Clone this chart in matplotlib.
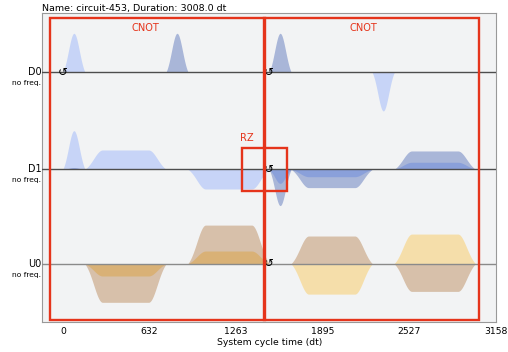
import numpy as np
import matplotlib.pyplot as plt
from matplotlib.patches import Rectangle
from matplotlib.transforms import blended_transform_factory

# Channels and their vertical offsets
channels = ['D0', 'D1', 'U0']
offsets = [0.0, -2.487, -4.908]
baseline_colors = ['#4d4d4d', '#4d4d4d', '#8a8a8a']

# Pulse table (normalised amplitudes, times in dt)
pulse_ch = ['D0', 'D0', 'D0', 'D0',
            'D1', 'D1', 'D1', 'D1', 'D1', 'D1',
            'U0', 'U0', 'U0', 'U0']
pulse_start = [0, 752, 1504, 2256,
               0, 160, 912, 1504, 1664, 2416,
               160, 912, 1664, 2416]
pulse_dur = [160, 160, 160, 160,
             160, 592, 592, 160, 592, 592,
             592, 592, 592, 592]
pulse_shape = ['gauss', 'gauss', 'gauss', 'gauss',
               'gauss', 'square', 'square', 'gauss', 'square', 'square',
               'square', 'square', 'square', 'square']
pulse_re = [1.0, 0.0, 0.0, -0.99,
            0.99, 0.495, -0.505, -0.36, -0.19, 0.18,
            -0.315, 0.325, -0.78, 0.76]
pulse_im = [0.0, 1.0, 1.0, 0.0,
            0.04, 0.0, 0.0, -0.93, -0.47, 0.47,
            -0.99, 0.99, 0.71, -0.71]

# Frame changes (shift phase)
fc_ch = ['D0', 'D0', 'D1', 'U0']
fc_time = [0, 1504, 1504, 1504]

# Gate annotation boxes: (label, t0, t1, y0, y1)
box_label = ['CNOT', 'CNOT', 'RZ']
box_t0 = [-94, 1463, 1304]
box_t1 = [1472, 3037, 1636]
box_y0 = [-6.35, -6.35, -3.036]
box_y1 = [1.385, 1.385, -1.933]
box_text_x = [599, 2189, 1343]
box_text_y = [1.128, 1.128, -1.685]

duration = 3008
colors = {'D': ('#648fff', '#002999'), 'U': ('#ffb000', '#994A00')}
GAUSS_SIGMA = 40
SQ_SIGMA = 64
SQ_WIDTH = 336


def lifted_gaussian(t, center, sigma, t_zero):
    g = np.exp(-(t - center) ** 2 / (2 * sigma ** 2))
    g0 = np.exp(-(t_zero - center) ** 2 / (2 * sigma ** 2))
    return np.clip((g - g0) / (1 - g0), 0, None)


def envelope(shape, dur):
    t = np.linspace(0, dur, 300)
    if shape == 'gauss':
        return t, lifted_gaussian(t, dur / 2, GAUSS_SIGMA, -1)
    rf = (dur - SQ_WIDTH) / 2
    env = np.ones_like(t)
    rise = t < rf
    fall = t > rf + SQ_WIDTH
    env[rise] = lifted_gaussian(t[rise], rf, SQ_SIGMA, -1)
    env[fall] = lifted_gaussian(t[fall], rf + SQ_WIDTH, SQ_SIGMA, dur + 1)
    return t, env


fig = plt.figure(figsize=(5.08, 3.52), dpi=100)
ax = fig.add_axes([0.0833, 0.0861, 0.8931, 0.8761])
ax.set_facecolor('#f2f3f4')

offset_of = dict(zip(channels, offsets))

for ch, t0, dur, shape, re, im in zip(pulse_ch, pulse_start, pulse_dur,
                                      pulse_shape, pulse_re, pulse_im):
    y0 = offset_of[ch]
    c_re, c_im = colors[ch[0]]
    t, env = envelope(shape, dur)
    if re != 0:
        ax.fill_between(t0 + t, y0, y0 + re * env, color=c_re, alpha=0.3, lw=0)
    if im != 0:
        ax.fill_between(t0 + t, y0, y0 + im * env, color=c_im, alpha=0.3, lw=0)

xmin, xmax = -0.05 * duration, 1.05 * duration
trans = blended_transform_factory(ax.transAxes, ax.transData)
for ch, y0, lc in zip(channels, offsets, baseline_colors):
    ax.axhline(y0, color=lc, lw=1.0, zorder=3)
    ax.text(-0.002, y0, ch, transform=trans, ha='right', va='center', fontsize=6.9)
    ax.text(-0.002, y0 - 0.28, 'no freq.', transform=trans, ha='right', va='center',
            fontsize=5.4)

for ch, t in zip(fc_ch, fc_time):
    ax.text(t, offset_of[ch], '\u21BA', ha='center', va='center', fontsize=8.5,
            color='black', zorder=5)

red = '#e5341b'
for lab, t0, t1, y0, y1, tx, ty in zip(box_label, box_t0, box_t1, box_y0, box_y1,
                                       box_text_x, box_text_y):
    ax.add_patch(Rectangle((t0, y0), t1 - t0, y1 - y0, fill=False, ec=red, lw=1.7,
                           zorder=6, clip_on=False))
    ax.text(tx, ty, lab, color=red, fontsize=7.1, ha='center', va='center', zorder=6)

ax.set_xlim(xmin, xmax)
ax.set_ylim(-6.395, 1.513)
ticks = np.linspace(0, xmax, 6)
ax.set_xticks(ticks)
ax.set_xticklabels([f'{v:.0f}' for v in ticks])
ax.set_yticks([])
ax.tick_params(axis='x', length=0, pad=3.5, labelsize=6.7)
for sp in ax.spines.values():
    sp.set_color('#999999')
ax.set_xlabel('System cycle time (dt)', fontsize=6.7, labelpad=2)
ax.set_title('Name: circuit-453, Duration: 3008.0 dt', loc='left', fontsize=6.8, pad=2)

fig.savefig('out.png', dpi=100)
